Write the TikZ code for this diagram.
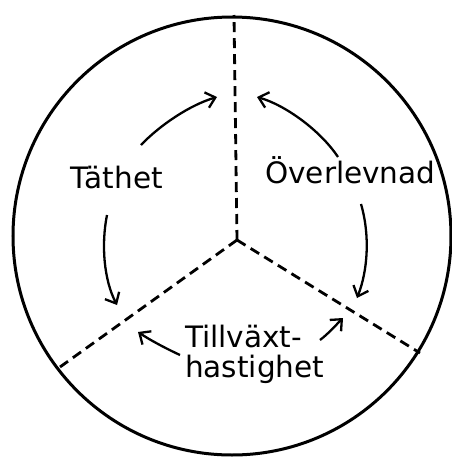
\documentclass[tikz,border=0pt]{standalone}
\usepackage{fontspec}
\setmainfont{DejaVu Sans}
\usetikzlibrary{arrows.meta}
\begin{document}
\begin{tikzpicture}[x=1pt,y=-1pt,
  lbl/.style={anchor=base west,inner sep=0pt,font=\fontsize{29.5}{32}\selectfont},
  dline/.style={line width=2.8pt,dash pattern=on 10pt off 6pt},
  arr/.style={line width=2.3pt,-{Straight Barb[length=9pt,width=16pt,line width=2.3pt]}}]
\useasboundingbox (0,0) rectangle (451,459);
\fill[white] (0,0) rectangle (451,459);
% circle
\node[draw,circle,line width=3pt,minimum size=438pt,inner sep=0pt] (circ) at (232,236) {};
% dashed spokes
\coordinate (c) at (237,240);
\coordinate (top) at (234,15);
\coordinate (ll) at (60,367);
\coordinate (lr) at (420,353);
\draw[dline] (c) -- (top);
\draw[dline] (c) -- (ll);
\draw[dline] (c) -- (lr);
% labels
\node[lbl] (tathet) at (70,188) {Täthet};
\node[lbl] (overl) at (265,183) {Överlevnad};
\node[lbl] (till) at (185,347) {Tillväxt-};
\node[lbl] (hast) at (185,377) {hastighet};
% arrow end points
\coordinate (a1s) at (141,145); \coordinate (a1e) at (217,97);
\coordinate (a2s) at (107,215); \coordinate (a2e) at (117,305);
\coordinate (a3s) at (338,157); \coordinate (a3e) at (257,97);
\coordinate (a4s) at (361,204); \coordinate (a4e) at (357,298);
\coordinate (a5s) at (180,355); \coordinate (a5e) at (138,332);
\coordinate (a6s) at (320,340); \coordinate (a6e) at (343,318);
\draw[arr] (a1s) .. controls (160,125) and (190,105) .. (a1e);
\draw[arr] (a2s) .. controls (101,245) and (104,280) .. (a2e);
\draw[arr] (a3s) .. controls (320,130) and (285,105) .. (a3e);
\draw[arr] (a4s) .. controls (370,235) and (368,270) .. (a4e);
\draw[arr] (a5s) .. controls (165,348) and (150,340) .. (a5e);
\draw[arr] (a6s) .. controls (328,334) and (336,325) .. (a6e);
\end{tikzpicture}
\end{document}
